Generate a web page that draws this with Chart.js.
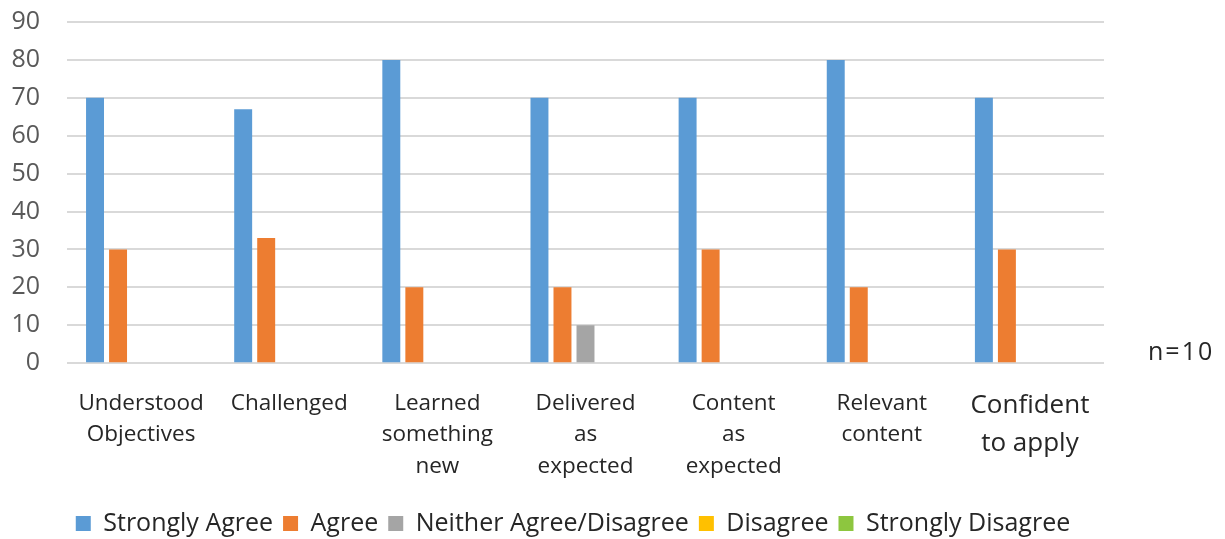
<!DOCTYPE html>
<html><head><meta charset="utf-8">
<script src="https://cdn.jsdelivr.net/npm/chart.js@4.4.0/dist/chart.umd.min.js"></script>
<style>html,body{margin:0;padding:0;background:#fff;}#wrap{width:1225px;height:539px;}</style>
</head><body><div id="wrap"><canvas id="c"></canvas></div>
<script>
const categories = [["Understood","Objectives"],"Challenged",["Learned","something","new"],["Delivered","as","expected"],["Content","as","expected"],["Relevant","content"],["Confident","to apply"]];
const stronglyAgree = [70,67,80,70,70,80,70];
const agree = [30,33,20,20,30,20,30];
const neither = [0,0,0,10,0,0,0];
const disagree = [0,0,0,0,0,0,0];
const stronglyDisagree = [0,0,0,0,0,0,0];
const yTicks = [0,10,20,30,40,50,60,70,80,90];
const note = "n=10";
const FONT = "'Open Sans', 'Noto Sans', sans-serif";
const mk = (label, data, color) => ({label, data, backgroundColor: color, borderWidth: 0, barPercentage: 0.78, categoryPercentage: 0.777});
const noteText = {
  id: 'noteText',
  afterLayout(chart) {
    if (chart.legend) { chart.legend.left += 15; chart.legend.right += 15; }
  },
  afterDraw(chart) {
    const {ctx} = chart;
    ctx.save();
    ctx.font = "25px " + FONT;
    ctx.letterSpacing = "2px";
    ctx.fillStyle = "#262626";
    ctx.textBaseline = "middle";
    ctx.textAlign = "left";
    ctx.fillText(note, 1148, chart.scales.y.getPixelForValue(0) - 10);
    ctx.restore();
  }
};
new Chart(document.getElementById('c'), {
  type: 'bar',
  data: { labels: categories, datasets: [
    mk("Strongly Agree", stronglyAgree, "#5B9BD5"),
    mk("Agree", agree, "#ED7D31"),
    mk("Neither Agree/Disagree", neither, "#A5A5A5"),
    mk("Disagree", disagree, "#FFC000"),
    mk("Strongly Disagree", stronglyDisagree, "#8DC63F")
  ]},
  options: {
    responsive: true, maintainAspectRatio: false, animation: false,
    layout: { padding: { top: 0, right: 121, left: 12, bottom: -7 } },
    plugins: {
      tooltip: { enabled: false },
      legend: { position: 'bottom', labels: { boxWidth: 15, boxHeight: 15, padding: 10, color: "#262626", font: { size: 25, family: FONT } } }
    },
    scales: {
      x: {
        grid: { display: false }, border: { display: false },
        afterFit: (s) => { s.paddingLeft = 0; s.paddingRight = 0; s.height += 2; },
        ticks: { color: "#262626", padding: 16, maxRotation: 0, autoSkip: false,
          font: (ctx) => ctx.index === 6 ? { size: 26, family: FONT, lineHeight: 1.45 } : { size: 22.5, family: FONT, lineHeight: 1.42 } }
      },
      y: {
        min: 0, max: 90,
        afterBuildTicks: (s) => { s.ticks = yTicks.map(v => ({value: v})); },
        afterFit: (s) => { s.width = 55; s.paddingTop = 22; s.paddingBottom = 0; },
        grid: { color: "#D9D9D9", lineWidth: 2, drawTicks: false }, border: { display: false },
        ticks: { color: "#595959", padding: 27, font: { size: 25, family: FONT } }
      }
    }
  },
  plugins: [noteText]
});
</script></body></html>
